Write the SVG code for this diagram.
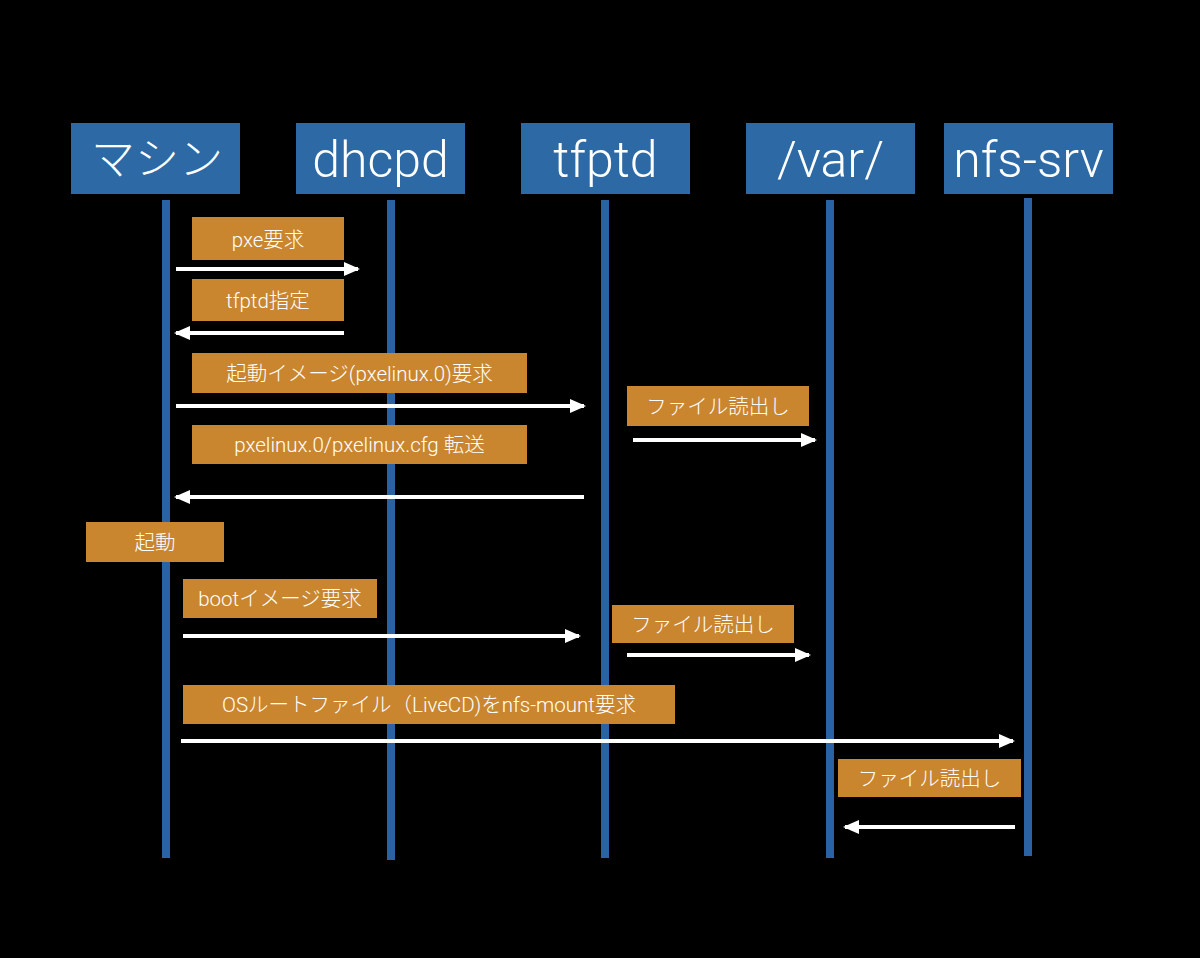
<svg xmlns="http://www.w3.org/2000/svg" width="1200" height="958" viewBox="0 0 1200 958">
<style>
.hdr{fill:#2c69a5}
.life{fill:#2a62a4}
.lbl{fill:#c9862f}
.ht{font-family:"Roboto","Noto Sans CJK JP",sans-serif;font-weight:300;font-size:50px;fill:#fff;text-anchor:middle}
.lt{font-family:"Roboto","Noto Sans CJK JP",sans-serif;font-weight:300;font-size:20.5px;fill:#fff;text-anchor:middle}
.arr{stroke:#fff;stroke-width:4;fill:none;marker-end:url(#ah)}
</style>
<defs>
<marker id="ah" markerUnits="userSpaceOnUse" markerWidth="16" markerHeight="16" refX="14" refY="8" orient="auto">
<path d="M0,1 L16,8 L0,15 Z" fill="#fff"/>
</marker>
</defs>
<rect width="1200" height="958" fill="#000"/>
<g id="node-machine">
<rect class="hdr" x="71" y="123" width="169" height="71"/>
<text class="ht" x="157" y="175" style="font-size:44px">マシン</text>
<rect class="life" x="162" y="200" width="8" height="658"/>
</g>
<g id="node-dhcpd">
<rect class="hdr" x="296" y="123" width="169" height="71"/>
<text class="ht" x="380.5" y="177">dhcpd</text>
<rect class="life" x="387" y="200" width="8" height="660"/>
</g>
<g id="node-tfptd">
<rect class="hdr" x="521" y="123" width="169" height="71"/>
<text class="ht" x="605.5" y="177">tfptd</text>
<rect class="life" x="601" y="200" width="8" height="658"/>
</g>
<g id="node-var">
<rect class="hdr" x="746" y="123" width="169" height="71"/>
<text class="ht" x="830.5" y="177">/var/</text>
<rect class="life" x="826" y="200" width="8" height="658"/>
</g>
<g id="node-nfs">
<rect class="hdr" x="944" y="123" width="169" height="71"/>
<text class="ht" x="1028.5" y="177">nfs-srv</text>
<rect class="life" x="1024" y="198" width="8" height="658"/>
</g>
<g id="labels">
<rect class="lbl" x="192" y="217" width="152" height="43"/>
<text class="lt" x="268" y="247">pxe要求</text>
<rect class="lbl" x="192" y="279" width="152" height="42"/>
<text class="lt" x="268" y="308">tfptd指定</text>
<rect class="lbl" x="192" y="353" width="335" height="40"/>
<text class="lt" x="359.5" y="381">起動イメージ(pxelinux.0)要求</text>
<rect class="lbl" x="627" y="386" width="182" height="40"/>
<text class="lt" x="718" y="414">ファイル読出し</text>
<rect class="lbl" x="192" y="425" width="335" height="39"/>
<text class="lt" x="359.5" y="452">pxelinux.0/pxelinux.cfg 転送</text>
<rect class="lbl" x="86" y="522" width="138" height="40"/>
<text class="lt" x="155" y="550">起動</text>
<rect class="lbl" x="183" y="579" width="194" height="39"/>
<text class="lt" x="280" y="606">bootイメージ要求</text>
<rect class="lbl" x="612" y="605" width="182" height="38"/>
<text class="lt" x="703" y="632">ファイル読出し</text>
<rect class="lbl" x="183" y="685" width="492" height="39"/>
<text class="lt" x="429" y="712">OSルートファイル（LiveCD)をnfs-mount要求</text>
<rect class="lbl" x="838" y="759" width="183" height="38"/>
<text class="lt" x="929.5" y="786">ファイル読出し</text>
</g>
<g id="connectors">
<line class="arr" x1="176" y1="269" x2="358" y2="269"/>
<line class="arr" x1="344" y1="333" x2="176" y2="333"/>
<line class="arr" x1="176" y1="406" x2="584" y2="406"/>
<line class="arr" x1="633" y1="440" x2="815" y2="440"/>
<line class="arr" x1="584" y1="497" x2="176" y2="497"/>
<line class="arr" x1="183" y1="636" x2="579" y2="636"/>
<line class="arr" x1="627" y1="655" x2="809" y2="655"/>
<line class="arr" x1="181" y1="741" x2="1013" y2="741"/>
<line class="arr" x1="1015" y1="827" x2="845" y2="827"/>
</g>
</svg>
